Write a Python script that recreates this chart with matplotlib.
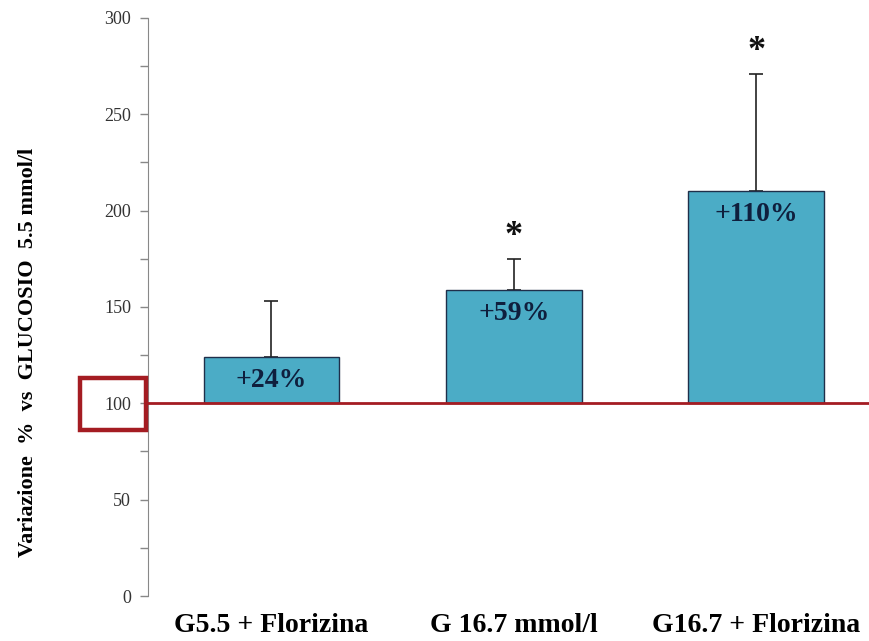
import matplotlib
matplotlib.use("Agg")
import matplotlib.pyplot as plt
from matplotlib.patches import Rectangle
from matplotlib.ticker import MultipleLocator
import matplotlib.transforms as mtransforms

categories = ["G5.5 + Florizina", "G 16.7 mmol/l", "G16.7 + Florizina"]
values = [124, 159, 210]
err_upper = [29, 16, 61]
pct_labels = ["+24%", "+59%", "+110%"]
significant = [False, True, True]
baseline = 100

serif = ["Liberation Serif", "DejaVu Serif"]
bar_color = "#4bacc6"
edge_color = "#1f2f4a"
red = "#a41c22"
text_dark = "#0f1f3d"

fig = plt.figure(figsize=(8.7, 6.41), dpi=100)
ax = fig.add_axes([0.170, 0.0702, 0.830, 0.9018])

x = list(range(len(categories)))
heights = [v - baseline for v in values]
ax.bar(x, heights, bottom=baseline, width=0.56, color=bar_color,
       edgecolor=edge_color, linewidth=1.0, zorder=2)
ax.errorbar(x, values, yerr=[[0] * len(values), err_upper], fmt="none",
            ecolor="#222222", elinewidth=1.2, capsize=5, capthick=1.2, zorder=1)

ax.axhline(baseline, color=red, linewidth=2.0, zorder=3)

for xi, v, lab in zip(x, values, pct_labels):
    ax.annotate(lab, (xi, v), xytext=(0, -17), textcoords="offset points",
                ha="center", va="center", fontsize=20, fontweight="bold",
                family=serif, color=text_dark, zorder=4)

for xi, v, e, sig in zip(x, values, err_upper, significant):
    if sig:
        ax.annotate("*", (xi, v + e), xytext=(0, 16), textcoords="offset points",
                    ha="center", va="center", fontsize=26, fontweight="bold",
                    family=serif, color="#111111")

ax.set_ylim(0, 300)
ax.set_xlim(-0.51, 2.47)
ax.yaxis.set_major_locator(MultipleLocator(50))
ax.yaxis.set_minor_locator(MultipleLocator(25))
ax.tick_params(axis="y", which="both", direction="out", color="#888888",
               length=6, width=1, labelsize=13, labelcolor="#333333", pad=6)
for t in ax.get_yticklabels():
    t.set_family(serif)

ax.set_xticks(x)
ax.set_xticklabels(categories, family=serif, fontweight="bold", fontsize=20)
ax.tick_params(axis="x", length=0, pad=12)

for side in ("top", "right", "bottom"):
    ax.spines[side].set_visible(False)
ax.spines["left"].set_color("#888888")

ax.set_ylabel("Variazione  %  vs  GLUCOSIO  5.5 mmol/l", family=serif,
              fontweight="bold", fontsize=16)
ax.yaxis.set_label_coords(-0.152, 0.422)

# box highlighting the 100 reference tick
trans = mtransforms.blended_transform_factory(ax.transAxes, ax.transData)
ax.add_patch(Rectangle((-0.094, 86), 0.091, 27, transform=trans, fill=False,
                       edgecolor=red, linewidth=3.2, clip_on=False, zorder=5))

fig.savefig("out.png", dpi=100)
